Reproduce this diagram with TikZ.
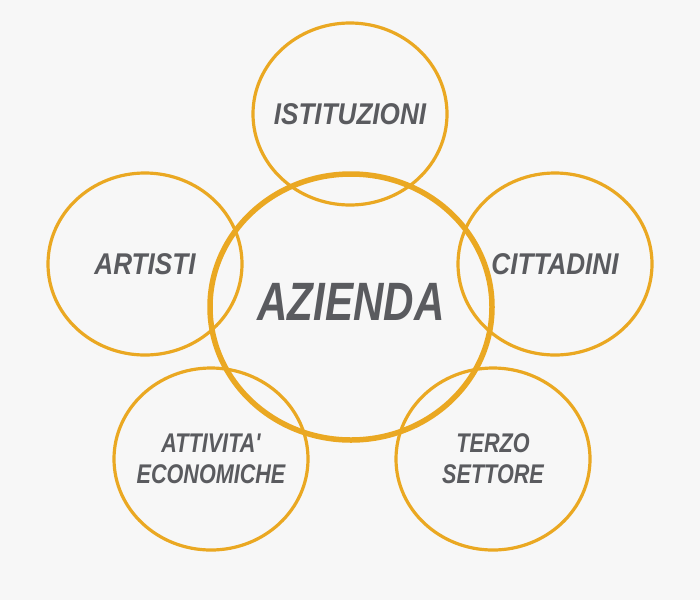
\documentclass[tikz,border=0pt]{standalone}
\usepackage{fontspec}
\newfontfamily\ringfont{Liberation Sans}[FakeStretch=0.87]
\newfontfamily\pairfont{Liberation Sans}[FakeStretch=0.80]
\newfontfamily\hubfont{Liberation Sans}[FakeStretch=0.78]
\usetikzlibrary{shapes.geometric}
\definecolor{ringorange}{HTML}{EAA822}
\definecolor{labelgray}{HTML}{5A5B5F}
\definecolor{paper}{HTML}{F7F7F7}

\begin{document}
\begin{tikzpicture}[x=1pt, y=-1pt,
    nodes={text=labelgray, align=center, inner sep=0pt},
    ring/.style={draw=ringorange, ellipse, line width=3.2pt,
                 minimum width=194pt, minimum height=182pt},
    single/.style={font=\ringfont\bfseries\itshape\fontsize{30}{33}\selectfont},
    pair/.style={font=\pairfont\bfseries\itshape\fontsize{27}{31}\selectfont},
    hub/.style={draw=ringorange, ellipse, line width=5.5pt,
                minimum width=282pt, minimum height=266pt}]
  \fill[paper] (0,0) rectangle (700,600);
  \node[ring, label={[single]center:ISTITUZIONI}] (istituzioni) at (350,114) {};
  \node[ring, label={[single]center:ARTISTI}] (artisti) at (145,264) {};
  \node[ring, label={[single]center:CITTADINI}] (cittadini) at (555,264) {};
  \node[ring, label={[pair]center:ATTIVITA'\\ECONOMICHE}] (attivita) at (211,459) {};
  \node[ring, label={[pair]center:TERZO\\SETTORE}] (terzo) at (493,459) {};
  \node[hub] (azienda) at (351,307) {};
  \node[font=\hubfont\bfseries\itshape\fontsize{54}{60}\selectfont]
    (aziendatext) at (351,302) {AZIENDA};
\end{tikzpicture}
\end{document}
